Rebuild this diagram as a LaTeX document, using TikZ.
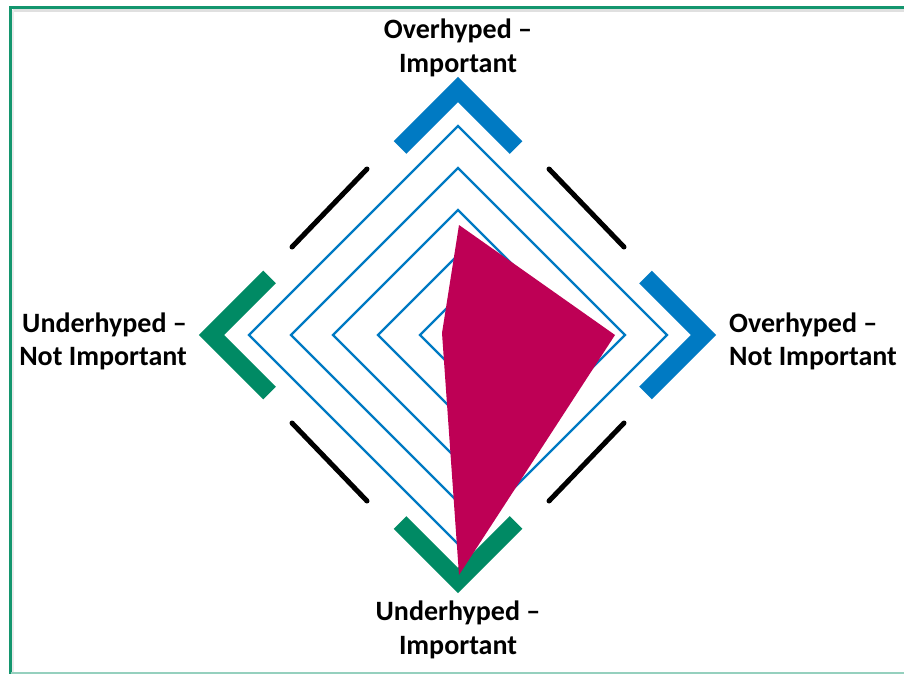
\documentclass[tikz,border=0pt]{standalone}
\usepackage{fontspec}
\setmainfont{Carlito}
\usetikzlibrary{calc}
\definecolor{chartblue}{RGB}{0,122,195}
\definecolor{chartgreen}{RGB}{0,138,100}
\definecolor{chartmag}{RGB}{190,0,85}
\definecolor{framegreen}{RGB}{20,150,110}
\begin{document}
\begin{tikzpicture}[x=1pt,y=-1pt,
  gridline/.style={draw=chartblue, line width=2.2pt, line join=miter},
  chevblue/.style={draw=chartblue, line width=18pt, line join=miter, line cap=butt},
  chevgreen/.style={draw=chartgreen, line width=18pt, line join=miter, line cap=butt},
  blackbar/.style={draw=black, line width=5pt, line cap=round},
  lbl/.style={inner sep=0pt, font=\fontsize{28}{34}\selectfont\bfseries}]
\useasboundingbox (0,0) rectangle (904,674);
\fill[white] (0,0) rectangle (904,674);
% frame
\draw[black!12, line width=2.5pt] (13,10.5) -- (904,10.5);
\draw[black!8, line width=2pt] (13,10.5) -- (13,674);
\draw[framegreen, line width=3pt] (904,7.5) -- (10.5,7.5) -- (10.5,674);
\draw[framegreen!45, line width=2pt] (10.5,673) -- (904,673);
% centre
\coordinate (C) at (458,335);
% grid diamonds
\foreach \r in {38,80,125,167,209}{
  \draw[gridline, shift={(C)}] (0,-\r) -- (\r,0) -- (0,\r) -- (-\r,0) -- cycle;
}
% chevrons
\draw[chevblue, shift={(C)}] (-58,-187.5) -- (0,-245.5) -- (58,-187.5);
\draw[chevblue, shift={(C)}] (187.5,-58) -- (245.5,0) -- (187.5,58);
\draw[chevgreen, shift={(C)}] (-58,187.5) -- (0,245.5) -- (58,187.5);
\draw[chevgreen, shift={(C)}] (-188.5,-58) -- (-246.5,0) -- (-188.5,58);
% black bars
\draw[blackbar, shift={(C)}] (-166,-88) -- (-91,-166);
\draw[blackbar, shift={(C)}] (166,-88) -- (91,-166);
\draw[blackbar, shift={(C)}] (166,88) -- (91,166);
\draw[blackbar, shift={(C)}] (-166,88) -- (-91,166);
% data polygon
\fill[chartmag] (459,225) -- (615,335) -- (459,575) -- (442,333) -- cycle;
% labels
\node[lbl, anchor=base] (t1) at (458,39) {Overhyped –};
\node[lbl, anchor=base] (t2) at (458,73) {Important};
\node[lbl, anchor=base east] (l1) at (187,332) {Underhyped –};
\node[lbl, anchor=base east] (l2) at (187,365) {Not Important};
\node[lbl, anchor=base west] (r1) at (729,332) {Overhyped –};
\node[lbl, anchor=base west] (r2) at (729,365) {Not Important};
\node[lbl, anchor=base] (b1) at (458,620) {Underhyped –};
\node[lbl, anchor=base] (b2) at (458,654) {Important};
\end{tikzpicture}
\end{document}
